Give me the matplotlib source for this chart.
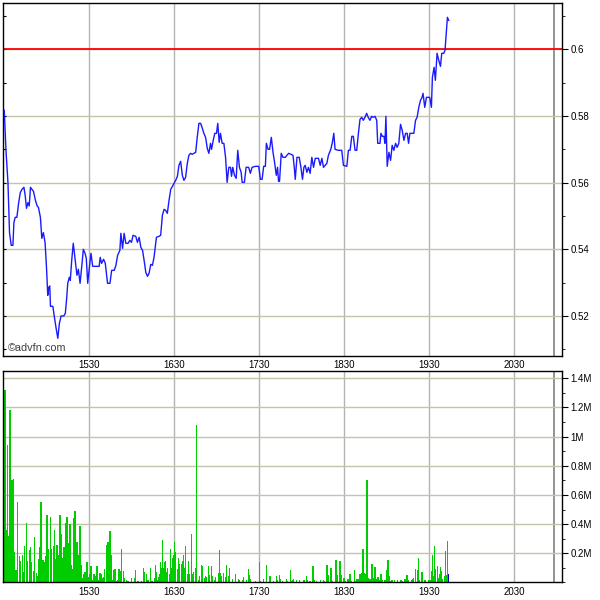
import matplotlib
matplotlib.use('Agg')
import matplotlib.pyplot as plt
from matplotlib.ticker import MultipleLocator, FixedLocator, FuncFormatter

# Price trace: minutes after 14:30 and price
price_min = [0, 1.2, 2.6, 3.7, 4.9, 6.1, 6.8, 7.7, 8.9, 10.1,
             11.3, 12.5, 13.9, 14.8, 15.7, 16.7, 17.6, 18.5, 19.5, 20.6,
             22.0, 23.2, 24.1, 25.5, 26.5, 27.6, 28.8, 29.8, 30.7, 31.4,
             32.1, 32.6, 34.3, 35.4, 36.6, 37.8, 38.9, 40.1, 42.0, 43.1,
             44.1, 44.8, 45.9, 46.6, 47.6, 48.7, 49.9, 51.3, 52.3, 53.5,
             54.9, 55.8, 57.0, 57.9, 58.9, 60.0, 61.2, 62.4, 64.7, 67.0,
             67.7, 68.7, 70.1, 71.3, 72.9, 74.6, 75.8, 77.6, 78.8, 80.0,
             81.6, 82.3, 83.5, 84.6, 85.8, 87.4, 88.6, 89.8, 90.9, 92.8,
             94.0, 95.2, 96.4, 97.6, 98.7, 99.9, 101.1, 102.2, 103.4, 104.6,
             105.7, 107.4, 109.2, 110.4, 111.6, 112.8, 113.9, 115.1, 116.3, 117.5,
             118.7, 119.8, 121.0, 122.2, 123.3, 124.5, 125.7, 126.8, 128.0, 129.2,
             130.3, 131.5, 132.7, 133.8, 135.1, 136.2, 137.4, 138.6, 139.8, 140.9,
             142.1, 143.3, 144.4, 145.6, 146.3, 147.5, 148.6, 149.8, 150.7, 151.7,
             152.6, 153.8, 155.0, 156.2, 157.3, 158.5, 159.7, 160.4, 161.3, 162.5,
             163.7, 164.8, 166.0, 167.2, 167.9, 169.5, 170.7, 172.5, 173.7, 174.9,
             177.3, 179.6, 180.8, 182.0, 183.1, 184.3, 185.0, 186.2, 187.3, 188.5,
             189.7, 190.8, 192.0, 192.9, 193.6, 194.3, 195.5, 196.7, 198.4, 199.5,
             200.7, 202.4, 203.8, 204.7, 205.4, 206.6, 208.2, 209.4, 210.5, 211.5,
             212.4, 213.6, 214.7, 215.9, 217.1, 218.3, 219.5, 221.8, 223.0, 224.2,
             225.3, 226.5, 227.7, 228.8, 230.5, 231.6, 232.6, 233.5, 235.8, 238.2,
             239.4, 241.8, 242.9, 244.1, 245.3, 246.4, 247.6, 248.8, 249.9, 251.1,
             252.3, 253.4, 254.6, 255.8, 256.9, 258.1, 259.3, 260.5, 261.7, 262.9,
             263.6, 265.2, 265.9, 266.8, 268.0, 268.7, 269.4, 270.3, 271.5, 272.7,
             273.8, 275.0, 276.2, 277.3, 278.5, 279.7, 280.9, 282.1, 283.3, 284.4,
             285.4, 286.3, 289.1, 290.3, 291.4, 292.6, 293.8, 294.9, 295.6, 296.8,
             298.0, 300.3, 301.5, 302.2, 303.4, 304.3, 305.5, 306.7, 307.9, 308.8,
             310.2, 311.1, 312.1, 312.8, 313.7]
price = [0.5817, 0.5697, 0.560, 0.545, 0.5412, 0.5412, 0.548, 0.5496, 0.5496, 0.5538,
         0.557, 0.558, 0.5586, 0.556, 0.5523, 0.554, 0.553, 0.5586, 0.558, 0.5574,
         0.5547, 0.553, 0.5526, 0.5496, 0.5433, 0.545, 0.542, 0.5346, 0.5262, 0.5286,
         0.529, 0.5229, 0.5229, 0.5196, 0.5163, 0.5133, 0.5178, 0.52, 0.52, 0.5208,
         0.5256, 0.5298, 0.5316, 0.5307, 0.5367, 0.5418, 0.5373, 0.5322, 0.534, 0.5298,
         0.5358, 0.54, 0.5388, 0.5373, 0.5298, 0.5343, 0.5388, 0.5349, 0.5349, 0.5349,
         0.5376, 0.5358, 0.537, 0.5358, 0.5298, 0.5298, 0.5337, 0.5337, 0.5352, 0.5382,
         0.5397, 0.5448, 0.5403, 0.5448, 0.5418, 0.5418, 0.5427, 0.5421, 0.5442, 0.5439,
         0.5421, 0.5436, 0.5406, 0.5397, 0.5367, 0.5331, 0.5319, 0.5328, 0.5355, 0.5352,
         0.5376, 0.5436, 0.5439, 0.5442, 0.5502, 0.552, 0.5517, 0.5508, 0.5547, 0.558,
         0.5589, 0.5598, 0.5607, 0.5619, 0.5652, 0.5664, 0.5622, 0.5607, 0.5616, 0.5658,
         0.5682, 0.5688, 0.5685, 0.5688, 0.5691, 0.5736, 0.5778, 0.5778, 0.5763, 0.5748,
         0.5736, 0.5703, 0.5688, 0.5718, 0.570, 0.5727, 0.5748, 0.5748, 0.5778, 0.5721,
         0.5748, 0.5718, 0.5718, 0.5676, 0.5601, 0.5646, 0.5646, 0.5619, 0.5646, 0.5622,
         0.5613, 0.5697, 0.5646, 0.5631, 0.5601, 0.5601, 0.5646, 0.5646, 0.5628, 0.5646,
         0.5649, 0.5649, 0.561, 0.561, 0.5649, 0.5649, 0.5718, 0.57, 0.57, 0.5736,
         0.5691, 0.5661, 0.5622, 0.5646, 0.5604, 0.5604, 0.5688, 0.5676, 0.5676, 0.5682,
         0.5688, 0.5685, 0.5682, 0.5646, 0.561, 0.5676, 0.5676, 0.5646, 0.561, 0.5646,
         0.5652, 0.5631, 0.5646, 0.5628, 0.5676, 0.5646, 0.5673, 0.5673, 0.5652, 0.5673,
         0.5646, 0.5652, 0.5658, 0.5682, 0.57, 0.5721, 0.5748, 0.57, 0.5697, 0.5697,
         0.5652, 0.5649, 0.5697, 0.5697, 0.5739, 0.5739, 0.5697, 0.5697, 0.5745, 0.579,
         0.5796, 0.5787, 0.5796, 0.5808, 0.5796, 0.5787, 0.5799, 0.5796, 0.5799, 0.5787,
         0.5718, 0.5718, 0.5748, 0.5739, 0.5739, 0.5718, 0.5799, 0.5649, 0.5691, 0.5667,
         0.5712, 0.5697, 0.5718, 0.5706, 0.5718, 0.5775, 0.5757, 0.5727, 0.5748, 0.5748,
         0.5718, 0.5748, 0.5748, 0.5787, 0.5796, 0.5826, 0.5847, 0.5856, 0.5868, 0.5826,
         0.5856, 0.5856, 0.5826, 0.5916, 0.5946, 0.5907, 0.5988, 0.5967, 0.5949, 0.5988,
         0.5988, 0.5997, 0.6057, 0.6096, 0.6087]

prev_close = 0.6

# Volume bars: minutes after 14:30 and volume (millions)
vol_min = [0.5, 1.2, 2.1, 2.8, 4.0, 5.4, 6.3, 7.0, 8.2, 9.1,
           10.6, 11.3, 12.7, 13.4, 14.1, 15.5, 16.2, 17.6, 18.3, 19.0,
           20.4, 21.1, 22.5, 23.2, 24.6, 25.3, 26.0, 27.4, 28.1, 29.5,
           30.2, 30.9, 32.4, 33.1, 34.5, 35.2, 35.9, 36.6, 37.3, 38.0,
           39.4, 40.1, 41.5, 42.2, 43.6, 44.3, 45.0, 46.4, 47.1, 48.5,
           49.2, 49.9, 50.6, 51.3, 52.1, 53.5, 54.2, 55.6, 56.3, 57.0,
           58.4, 59.1, 60.5, 61.2, 62.6, 63.3, 64.0, 65.4, 66.1, 67.5,
           68.2, 68.9, 70.3, 71.0, 72.5, 73.2, 74.6, 75.3, 76.0, 77.4,
           78.1, 79.5, 80.2, 80.9, 82.3, 83.0, 84.4, 85.1, 86.5, 87.2,
           87.9, 90.0, 92.1, 92.8, 94.3, 95.0, 97.1, 98.5, 99.2, 100.6,
           101.3, 102.0, 103.4, 104.1, 104.8, 106.2, 106.9, 107.6, 108.3, 109.0,
           109.7, 110.4, 111.1, 111.8, 112.5, 113.2, 114.0, 114.7, 115.4, 116.8,
           117.5, 118.2, 118.9, 119.6, 120.3, 121.0, 122.4, 123.1, 123.8, 125.2,
           125.9, 126.6, 127.3, 128.0, 129.4, 130.1, 130.8, 132.2, 132.9, 133.6,
           135.1, 135.8, 137.2, 137.9, 139.3, 140.0, 141.4, 142.1, 142.8, 144.2,
           144.9, 146.3, 147.0, 148.4, 149.1, 151.2, 151.9, 152.6, 153.3, 154.7,
           156.2, 156.9, 158.3, 159.0, 161.1, 163.2, 165.3, 166.0, 168.1, 168.8,
           170.9, 172.3, 173.0, 173.7, 177.3, 180.1, 180.8, 183.1, 185.0, 187.1,
           187.8, 189.9, 192.0, 192.7, 194.1, 194.8, 196.2, 199.1, 199.8, 201.9,
           202.6, 203.3, 204.0, 206.1, 208.2, 211.0, 211.7, 213.1, 213.8, 215.2,
           215.9, 218.0, 218.7, 220.2, 223.0, 225.1, 225.8, 227.9, 228.6, 230.7,
           231.4, 234.2, 234.9, 237.0, 237.7, 239.9, 240.6, 242.7, 244.1, 244.8,
           247.0, 247.6, 249.0, 249.7, 251.1, 251.8, 252.5, 253.2, 253.9, 254.6,
           256.0, 256.7, 258.1, 258.8, 259.6, 260.3, 261.0, 261.7, 262.4, 263.1,
           263.8, 264.5, 265.9, 266.6, 268.7, 270.1, 270.8, 271.5, 272.9, 273.6,
           275.7, 277.8, 280.0, 280.7, 282.8, 284.2, 284.9, 287.7, 288.4, 289.1,
           290.5, 291.9, 292.6, 293.3, 294.7, 295.4, 296.8, 297.5, 299.6, 300.3,
           301.1, 301.8, 302.5, 303.2, 303.9, 304.6, 306.0, 306.7, 307.4, 308.1,
           308.8, 309.5, 310.9, 311.6, 312.3, 313.0, 313.7]
volume = [1.32, 0.36, 0.94, 0.32, 1.18, 0.70, 0.71, 0.21, 0.085, 0.55,
          0.18, 0.15, 0.19, 0.07, 0.25, 0.41, 0.15, 0.22, 0.24, 0.14,
          0.08, 0.31, 0.066, 0.046, 0.16, 0.24, 0.55, 0.155, 0.14, 0.18,
          0.46, 0.23, 0.45, 0.23, 0.25, 0.36, 0.16, 0.07, 0.26, 0.19,
          0.46, 0.33, 0.17, 0.24, 0.41, 0.45, 0.27, 0.40, 0.12, 0.09,
          0.44, 0.49, 0.17, 0.28, 0.19, 0.39, 0.12, 0.034, 0.06, 0.07,
          0.14, 0.04, 0.057, 0.11, 0.02, 0.057, 0.046, 0.11, 0.02, 0.064,
          0.057, 0.034, 0.04, 0.09, 0.26, 0.28, 0.35, 0.19, 0.016, 0.085,
          0.09, 0.011, 0.02, 0.09, 0.08, 0.23, 0.08, 0.034, 0.016, 0.011,
          0.011, 0.03, 0.03, 0.085, 0.011, 0.005, 0.011, 0.10, 0.07, 0.06,
          0.02, 0.02, 0.10, 0.011, 0.011, 0.034, 0.12, 0.07, 0.02, 0.04,
          0.06, 0.14, 0.10, 0.29, 0.10, 0.14, 0.15, 0.07, 0.10, 0.057,
          0.23, 0.10, 0.17, 0.19, 0.28, 0.21, 0.09, 0.17, 0.125, 0.125,
          0.15, 0.19, 0.10, 0.25, 0.06, 0.15, 0.057, 0.33, 0.057, 0.07,
          0.10, 1.08, 0.02, 0.046, 0.12, 0.11, 0.034, 0.046, 0.04, 0.11,
          0.05, 0.11, 0.046, 0.02, 0.04, 0.064, 0.22, 0.064, 0.046, 0.064,
          0.04, 0.12, 0.046, 0.10, 0.026, 0.056, 0.026, 0.019, 0.019, 0.037,
          0.019, 0.089, 0.049, 0.026, 0.009, 0.14, 0.009, 0.026, 0.12, 0.042,
          0.042, 0.009, 0.042, 0.019, 0.049, 0.026, 0.009, 0.026, 0.009, 0.084,
          0.009, 0.019, 0.026, 0.019, 0.014, 0.019, 0.019, 0.042, 0.019, 0.009,
          0.009, 0.11, 0.019, 0.009, 0.019, 0.019, 0.009, 0.12, 0.049, 0.10,
          0.009, 0.154, 0.049, 0.147, 0.049, 0.033, 0.009, 0.026, 0.056, 0.009,
          0.084, 0.009, 0.021, 0.021, 0.056, 0.061, 0.065, 0.23, 0.065, 0.056,
          0.70, 0.033, 0.026, 0.026, 0.13, 0.033, 0.033, 0.107, 0.026, 0.019,
          0.037, 0.019, 0.061, 0.019, 0.019, 0.084, 0.154, 0.042, 0.009, 0.019,
          0.014, 0.019, 0.019, 0.009, 0.026, 0.054, 0.019, 0.019, 0.026, 0.033,
          0.091, 0.084, 0.165, 0.019, 0.070, 0.070, 0.019, 0.019, 0.014, 0.014,
          0.019, 0.077, 0.19, 0.042, 0.25, 0.089, 0.11, 0.033, 0.061, 0.107,
          0.079, 0.026, 0.042, 0.217, 0.049, 0.287, 0.061]

hour_ticks = [60, 120, 180, 240, 300, 360]
hour_labels = ['1530', '1630', '1730', '1830', '1930', '2030']
close_marker = 388

plt.rcParams['font.family'] = ['Liberation Sans', 'DejaVu Sans']

fig = plt.figure(figsize=(6, 6), dpi=100)
ax1 = fig.add_axes([0.005, 0.4067, 0.9317, 0.5883])
ax2 = fig.add_axes([0.005, 0.0292, 0.9317, 0.3525])

hgrid = '#c4c4ac'
vgrid = '#b4b4b4'

for ax in (ax1, ax2):
    ax.set_xlim(-0.9, 393.7)
    ax.set_xticks(hour_ticks)
    ax.set_xticklabels(hour_labels)
    for t in hour_ticks:
        ax.axvline(t, color=vgrid, lw=1, zorder=0)
    ax.axvline(close_marker, color='#808080', lw=1.2, zorder=0)
    ax.tick_params(axis='x', length=0, labelsize=7, pad=3)
    ax.tick_params(axis='y', which='both', left=False, right=True,
                   labelleft=False, labelright=True, direction='out', labelsize=7, pad=2)
    ax.tick_params(axis='y', which='major', length=4)
    ax.tick_params(axis='y', which='minor', length=2.5)
    for s in ax.spines.values():
        s.set_linewidth(1)

# price panel
ax1.set_ylim(0.508, 0.6139)
ax1.yaxis.set_major_locator(FixedLocator([0.52, 0.54, 0.56, 0.58, 0.60]))
ax1.yaxis.set_minor_locator(MultipleLocator(0.01))
ax1.yaxis.set_major_formatter(FuncFormatter(lambda v, p: ('%.2f' % v).rstrip('0')))
for v in [0.52, 0.54, 0.56, 0.58, 0.60]:
    ax1.axhline(v, color=hgrid, lw=1, zorder=0)
ax1.axhline(prev_close, color='#ff0000', lw=1.3, zorder=2)
ax1.plot(price_min, price, color='#1a1aff', lw=1.0, zorder=3)
left1 = ax1.secondary_yaxis('left')
left1.yaxis.set_major_locator(MultipleLocator(0.01))
left1.tick_params(direction='in', length=2.5, labelleft=False)
left1.spines['left'].set_visible(False)
ax1.text(0.008, 0.022, '\u00a9advfn.com', transform=ax1.transAxes, fontsize=7.8,
         color='#404040', ha='left', va='center')

# volume panel
ax2.set_ylim(0, 1.45)
ax2.yaxis.set_major_locator(FixedLocator([0.2, 0.4, 0.6, 0.8, 1.0, 1.2, 1.4]))
ax2.yaxis.set_minor_locator(MultipleLocator(0.1))
ax2.yaxis.set_major_formatter(FuncFormatter(lambda v, p: ('%.1f' % v).rstrip('0').rstrip('.') + 'M'))
for v in [0.2, 0.4, 0.6, 0.8, 1.0, 1.2, 1.4]:
    ax2.axhline(v, color=hgrid, lw=1, zorder=0)
bar_colors = ['#00cc00'] * (len(volume) - 1) + ['#0000cc']
ax2.bar(vol_min, volume, width=0.9, color=bar_colors, linewidth=0,
        antialiased=False, zorder=2)

fig.savefig('out.png', dpi=100)
